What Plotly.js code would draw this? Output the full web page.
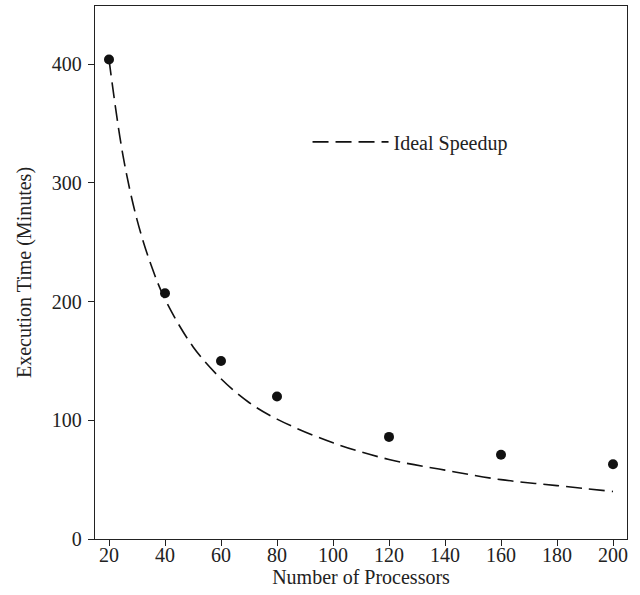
<!DOCTYPE html>
<html>
<head>
<meta charset="utf-8">
<script src="https://cdn.plot.ly/plotly-3.0.1.min.js"></script>
<style>html,body{margin:0;padding:0;background:#fff;}#chart{width:640px;height:595px;}</style>
</head>
<body>
<div id="chart"></div>
<script>
// Measured execution times
const processors = [20, 40, 60, 80, 120, 160, 200];
const execTime = [404, 207, 150, 120, 86, 71, 63];

// Ideal speedup curve
const idealX = [20, 25, 30, 35, 40, 50, 60, 70, 80, 100, 120, 140, 160, 180, 200];
const idealY = [404, 323, 269, 231, 202, 162, 135, 115, 101, 81, 67, 58, 50, 45, 40];

const xTicks = [20, 40, 60, 80, 100, 120, 140, 160, 180, 200];
const yTicks = [0, 100, 200, 300, 400];

const font = {family: '"Liberation Serif", "Times New Roman", serif', size: 20, color: '#222'};

const traces = [
  {
    x: idealX, y: idealY, type: 'scatter', mode: 'lines', name: 'Ideal Speedup',
    line: {color: '#111', width: 1.6, dash: '16px,7px', shape: 'spline'},
    showlegend: true
  },
  {
    x: processors, y: execTime, type: 'scatter', mode: 'markers', name: 'Measured',
    marker: {color: '#111', size: 10},
    showlegend: false
  }
];

const layout = {
  width: 640, height: 595,
  margin: {l: 95, r: 13, t: 6, b: 56},
  paper_bgcolor: '#fff', plot_bgcolor: '#fff',
  font: font,
  showlegend: true,
  legend: {x: 0.3995, y: 0.745, xanchor: 'left', yanchor: 'middle', bgcolor: 'rgba(0,0,0,0)', font: font, itemwidth: 76},
  xaxis: {
    range: [15, 205], tickvals: xTicks, ticktext: xTicks.map(String),
    showgrid: false, zeroline: false, showline: true, linecolor: '#222', linewidth: 1.2,
    mirror: true, ticks: 'outside', ticklen: 6, tickcolor: '#222', ticklabelstandoff: -8,
    title: {text: 'Number of Processors', font: font, standoff: 2}
  },
  yaxis: {
    range: [0, 449], tickvals: yTicks, ticktext: yTicks.map(String),
    showgrid: false, zeroline: false, showline: true, linecolor: '#222', linewidth: 1.2,
    mirror: true, ticks: 'outside', ticklen: 6, tickcolor: '#222', ticklabelstandoff: 2,
    title: {text: 'Execution Time (Minutes)', font: font, standoff: 14}
  }
};

Plotly.newPlot('chart', traces, layout, {displayModeBar: false, staticPlot: true});
</script>
</body>
</html>
